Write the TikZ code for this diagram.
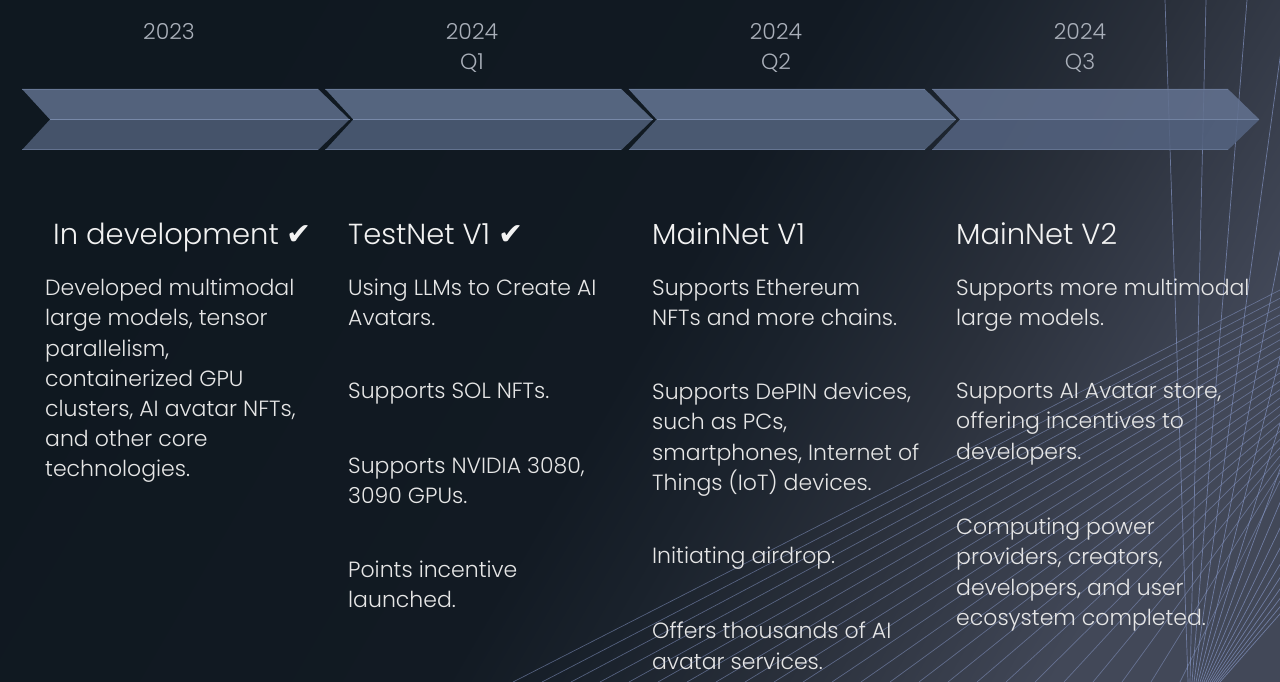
\documentclass[tikz,border=0pt]{standalone}
\usepackage{fontspec}
\setmainfont{Poppins}[UprightFont=* Light, BoldFont=* Medium]
\newfontfamily\symfont{DejaVu Sans}
\definecolor{bg0}{HTML}{0F1820}
\definecolor{bg1}{HTML}{121A23}
\definecolor{bg2}{HTML}{1A222C}
\definecolor{bg3}{HTML}{2A303B}
\definecolor{bg4}{HTML}{424858}
\definecolor{chevMid}{HTML}{7788A8}
\definecolor{latc}{HTML}{8494C2}
\definecolor{yearc}{HTML}{A9AFB9}
\definecolor{headc}{HTML}{F2F2F2}
\definecolor{bodyc}{HTML}{E6E6E6}
\pgfdeclarehorizontalshading{bgshade}{100bp}{color(0bp)=(bg0); color(25bp)=(bg0); color(50bp)=(bg1); color(56bp)=(bg2); color(64bp)=(bg3); color(75bp)=(bg4); color(100bp)=(bg4)}
\tikzset{
  year/.style={anchor=base, inner sep=0pt, text=yearc, font=\fontsize{22}{30}\selectfont, align=center},
  head/.style={anchor=base west, inner sep=0pt, text=headc, font=\fontsize{29}{34}\selectfont},
  body/.style={anchor=north west, inner sep=0pt, text=bodyc, align=left, font=\fontsize{22}{30.2}\selectfont},
  latline/.style={draw=latc, line width=0.7pt, draw opacity=0.55},
  chevedge/.style={draw=chevMid, line width=0.8pt},
}
\newcommand{\chk}{{\symfont\fontsize{30}{30}\selectfont ✔}}
\begin{document}
\begin{tikzpicture}[x=1pt,y=-1pt]
\useasboundingbox (0,0) rectangle (1280,682);
\shade[shading=bgshade, shading angle=-30] (0,0) rectangle (1280,682);
% lattice
\begin{scope}
\clip (0,0) rectangle (1280,682);
\foreach \i in {0,...,23}{
  \draw[latline] ({513+29*\i},682) -- (1280,{290+8.3*\i});
}
\foreach \k in {0,...,16}{
  \draw[latline, draw opacity=0.7] ({1188+2*\k},682) -- ({1165+41*\k},0);
}
\end{scope}
% chevrons
\foreach \i/\up/\lo/\op in {0/53627C/45536A/1, 1/55657F/46556D/1, 2/586883/4A5971/1, 3/62718F/546380/0.88}{
  \pgfmathsetmacro{\L}{22+303.3*\i}
  \definecolor{cu}{HTML}{\up}
  \definecolor{cl}{HTML}{\lo}
  \fill[cu, fill opacity=\op] (\L,89) -- ({\L+296},89) -- ({\L+327.5},119.5) -- ({\L+28},119.5) -- cycle;
  \fill[cl, fill opacity=\op] ({\L+28},119.5) -- ({\L+327.5},119.5) -- ({\L+296},150) -- (\L,150) -- cycle;
  \draw[chevedge, draw opacity=\op] ({\L+28},119.5) -- ({\L+327.5},119.5);
  \draw[draw=chevMid, line width=0.5pt, draw opacity=0.6*\op] (\L,89.3) -- ({\L+296},89.3);
  \draw[draw=chevMid, line width=0.5pt, draw opacity=0.6*\op] (\L,149.7) -- ({\L+296},149.7);
}
% years
\node[year] (y1) at (169,40) {2023};
\node[year] (y2) at (472,40) {2024};
\node[year] (q2) at (472,70) {Q1};
\node[year] (y3) at (776,40) {2024};
\node[year] (q3) at (776,70) {Q2};
\node[year] (y4) at (1080,40) {2024};
\node[year] (q4) at (1080,70) {Q3};
% headings
\node[head] (h1) at (53,244) {In development \chk};
\node[head] (h2) at (348,244) {TestNet V1 \chk};
\node[head] (h3) at (652,244) {MainNet V1};
\node[head] (h4) at (956,244) {MainNet V2};
% column 1
\node[body] (a1) at (45,279) {Developed multimodal\\large models, tensor\\parallelism,\\containerized GPU\\clusters, AI avatar NFTs,\\and other core\\technologies.};
% column 2
\node[body] (b1) at (348,279) {Using LLMs to Create AI\\Avatars.};
\node[body] (b2) at (348,383) {Supports SOL NFTs.};
\node[body] (b3) at (348,457) {Supports NVIDIA 3080,\\3090 GPUs.};
\node[body] (b4) at (348,561) {Points incentive\\launched.};
% column 3
\node[body] (c1) at (652,279) {Supports Ethereum\\NFTs and more chains.};
\node[body] (c2) at (652,383) {Supports DePIN devices,\\such as PCs,\\smartphones, Internet of\\Things (IoT) devices.};
\node[body] (c3) at (652,547) {Initiating airdrop.};
\node[body] (c4) at (652,622) {Offers thousands of AI\\avatar services.};
% column 4
\node[body] (d1) at (956,279) {Supports more multimodal\\large models.};
\node[body] (d2) at (956,383) {Supports AI Avatar store,\\offering incentives to\\developers.};
\node[body] (d3) at (956,518) {Computing power\\providers, creators,\\developers, and user\\ecosystem completed.};
\end{tikzpicture}
\end{document}
